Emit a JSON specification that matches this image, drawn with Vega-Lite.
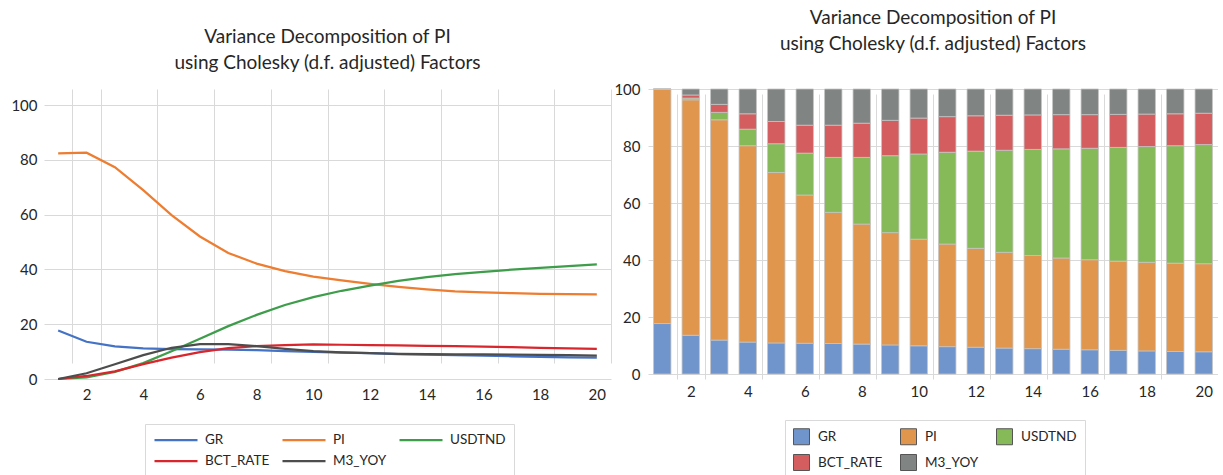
{
  "$schema": "https://vega.github.io/schema/vega-lite/v6.json",
  "padding": {"left": 10, "top": 9, "right": 0, "bottom": 0},
  "autosize": {"type": "pad"},
  "spacing": 2,
  "datasets": {
    "vd": [
      {"period": 1, "GR": 17.7, "PI": 82.3, "USDTND": 0.0, "BCT_RATE": 0.0, "M3_YOY": 0.0},
      {"period": 2, "GR": 13.6, "PI": 82.6, "USDTND": 0.6, "BCT_RATE": 1.1, "M3_YOY": 2.1},
      {"period": 3, "GR": 11.9, "PI": 77.3, "USDTND": 2.6, "BCT_RATE": 2.8, "M3_YOY": 5.4},
      {"period": 4, "GR": 11.2, "PI": 68.9, "USDTND": 5.8, "BCT_RATE": 5.4, "M3_YOY": 8.7},
      {"period": 5, "GR": 10.9, "PI": 59.8, "USDTND": 10.1, "BCT_RATE": 7.8, "M3_YOY": 11.4},
      {"period": 6, "GR": 10.8, "PI": 52.0, "USDTND": 14.7, "BCT_RATE": 9.8, "M3_YOY": 12.7},
      {"period": 7, "GR": 10.7, "PI": 46.0, "USDTND": 19.3, "BCT_RATE": 11.3, "M3_YOY": 12.7},
      {"period": 8, "GR": 10.5, "PI": 42.1, "USDTND": 23.4, "BCT_RATE": 12.0, "M3_YOY": 12.0},
      {"period": 9, "GR": 10.2, "PI": 39.4, "USDTND": 27.0, "BCT_RATE": 12.4, "M3_YOY": 11.0},
      {"period": 10, "GR": 9.9, "PI": 37.4, "USDTND": 29.9, "BCT_RATE": 12.6, "M3_YOY": 10.2},
      {"period": 11, "GR": 9.6, "PI": 36.0, "USDTND": 32.2, "BCT_RATE": 12.5, "M3_YOY": 9.7},
      {"period": 12, "GR": 9.4, "PI": 34.7, "USDTND": 34.1, "BCT_RATE": 12.4, "M3_YOY": 9.4},
      {"period": 13, "GR": 9.1, "PI": 33.6, "USDTND": 35.8, "BCT_RATE": 12.3, "M3_YOY": 9.2},
      {"period": 14, "GR": 8.9, "PI": 32.7, "USDTND": 37.2, "BCT_RATE": 12.1, "M3_YOY": 9.1},
      {"period": 15, "GR": 8.7, "PI": 32.0, "USDTND": 38.3, "BCT_RATE": 12.0, "M3_YOY": 9.0},
      {"period": 16, "GR": 8.5, "PI": 31.6, "USDTND": 39.1, "BCT_RATE": 11.8, "M3_YOY": 9.0},
      {"period": 17, "GR": 8.3, "PI": 31.3, "USDTND": 39.9, "BCT_RATE": 11.6, "M3_YOY": 8.9},
      {"period": 18, "GR": 8.1, "PI": 31.1, "USDTND": 40.6, "BCT_RATE": 11.4, "M3_YOY": 8.8},
      {"period": 19, "GR": 7.9, "PI": 31.0, "USDTND": 41.2, "BCT_RATE": 11.2, "M3_YOY": 8.7},
      {"period": 20, "GR": 7.8, "PI": 30.9, "USDTND": 41.8, "BCT_RATE": 11.0, "M3_YOY": 8.5}
    ]
  },
  "hconcat": [
    {
      "width": 567,
      "height": 290,
      "title": {
        "text": ["Variance Decomposition of PI", "using Cholesky (d.f. adjusted) Factors"],
        "lineHeight": 26,
        "offset": 16,
        "frame": "group",
        "anchor": "middle"
      },
      "data": {"name": "vd"},
      "transform": [{"fold": ["GR", "PI", "USDTND", "BCT_RATE", "M3_YOY"], "as": ["series", "value"]}],
      "mark": {"type": "line", "strokeWidth": 2.25},
      "encoding": {
        "x": {
          "field": "period",
          "type": "ordinal",
          "bandPosition": 0.5,
          "scale": {"type": "band", "paddingInner": 0, "paddingOuter": 0},
          "axis": {"values": [2, 4, 6, 8, 10, 12, 14, 16, 18, 20], "tickBand": "extent", "ticks": false, "domain": false, "grid": true, "labelAngle": 0, "title": null, "labelPadding": 8}
        },
        "y": {
          "field": "value",
          "type": "quantitative",
          "scale": {"domain": [0, 100], "nice": false, "range": [290, 16]},
          "axis": {"values": [0, 20, 40, 60, 80, 100], "ticks": false, "domain": false, "grid": true, "title": null, "labelPadding": 7}
        },
        "color": {
          "field": "series",
          "type": "nominal",
          "sort": ["GR", "PI", "USDTND", "BCT_RATE", "M3_YOY"],
          "scale": {"domain": ["GR", "PI", "USDTND", "BCT_RATE", "M3_YOY"], "range": ["#4472C4", "#ED7D31", "#3E9D4B", "#D9262C", "#4D4D4D"]},
          "legend": {
            "title": null,
            "orient": "none",
            "legendX": 101,
            "legendY": 335,
            "direction": "horizontal",
            "columns": 3,
            "symbolType": "stroke",
            "symbolSize": 1849,
            "symbolStrokeWidth": 2.25,
            "clipHeight": 16,
            "labelOffset": 6,
            "columnPadding": 11,
            "rowPadding": 5,
            "padding": 8,
            "strokeColor": "#d9d9d9"
          }
        }
      }
    },
    {
      "width": 570,
      "height": 290,
      "title": {
        "text": ["Variance Decomposition of PI", "using Cholesky (d.f. adjusted) Factors"],
        "lineHeight": 26,
        "offset": 28,
        "frame": "group",
        "anchor": "middle"
      },
      "data": {"name": "vd"},
      "transform": [
        {"fold": ["GR", "PI", "USDTND", "BCT_RATE", "M3_YOY"], "as": ["series", "value"]},
        {"calculate": "indexof(['GR', 'PI', 'USDTND', 'BCT_RATE', 'M3_YOY'], datum.series)", "as": "stackOrder"}
      ],
      "mark": {"type": "bar", "width": {"band": 0.61}, "stroke": "#c4c4c4", "strokeWidth": 0.8},
      "encoding": {
        "x": {
          "field": "period",
          "type": "ordinal",
          "scale": {"type": "band", "paddingInner": 0, "paddingOuter": 0},
          "axis": {"values": [2, 4, 6, 8, 10, 12, 14, 16, 18, 20], "tickBand": "extent", "ticks": false, "domain": false, "grid": true, "labelAngle": 0, "title": null, "labelPadding": 5}
        },
        "y": {
          "field": "value",
          "type": "quantitative",
          "aggregate": "sum",
          "stack": "zero",
          "scale": {"domain": [0, 100], "nice": false, "range": [285, 0]},
          "axis": {"values": [0, 20, 40, 60, 80, 100], "ticks": false, "domain": false, "grid": true, "title": null, "labelPadding": 8}
        },
        "order": {"field": "stackOrder", "type": "quantitative", "sort": "ascending"},
        "color": {
          "field": "series",
          "type": "nominal",
          "sort": ["GR", "PI", "USDTND", "BCT_RATE", "M3_YOY"],
          "scale": {"domain": ["GR", "PI", "USDTND", "BCT_RATE", "M3_YOY"], "range": ["#7094CC", "#E0964D", "#86BA59", "#D45D5F", "#808483"]},
          "legend": {
            "title": null,
            "orient": "none",
            "legendX": 137,
            "legendY": 331,
            "direction": "horizontal",
            "columns": 3,
            "symbolType": "square",
            "symbolSize": 256,
            "symbolStrokeColor": "#555555",
            "symbolStrokeWidth": 1,
            "labelOffset": 8,
            "columnPadding": 15,
            "rowPadding": 5,
            "padding": 8,
            "strokeColor": "#d9d9d9"
          }
        }
      }
    }
  ],
  "resolve": {"scale": {"color": "independent"}, "legend": {"color": "independent"}},
  "config": {
    "font": "Lato",
    "view": {"stroke": null},
    "title": {"font": "Lato", "fontSize": 19, "fontWeight": "normal", "color": "#262626"},
    "axis": {"labelFont": "Lato", "labelFontSize": 15, "labelColor": "#262626", "gridColor": "#d9d9d9", "gridWidth": 1},
    "legend": {"labelFont": "Lato", "labelFontSize": 13.5, "labelColor": "#262626"}
  }
}
